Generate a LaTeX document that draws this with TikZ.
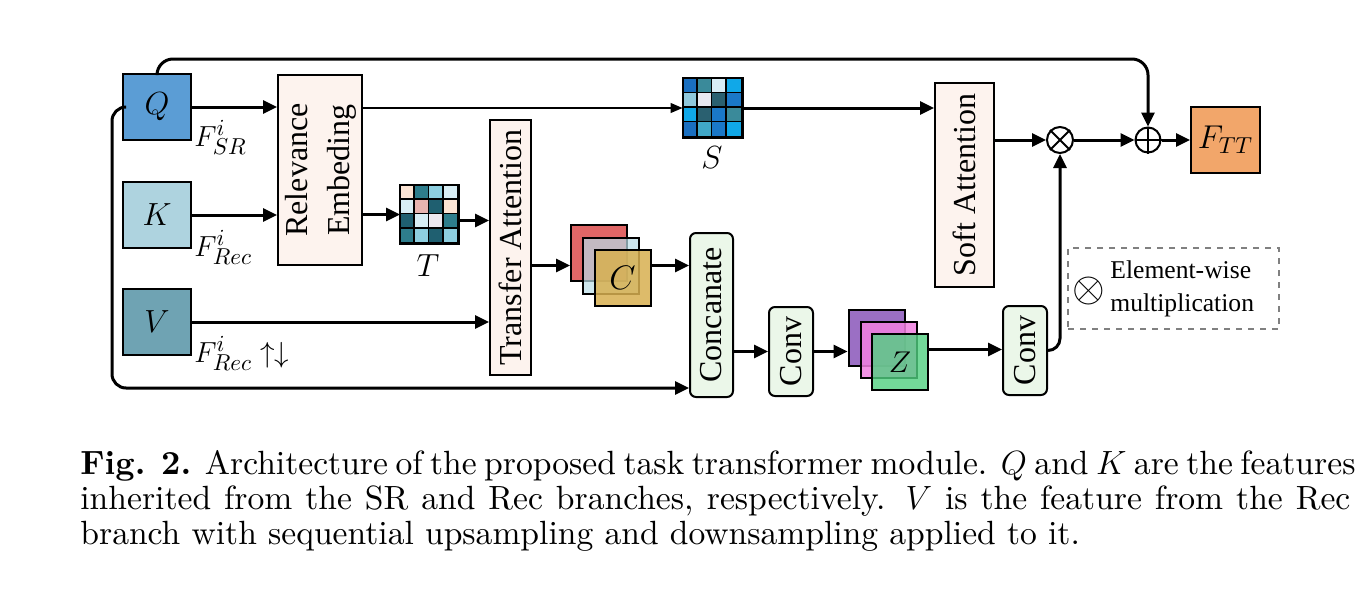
\RequirePackage{fix-cm}
\documentclass[tikz,border=0pt]{standalone}
\usepackage{fontspec}
\usepackage{graphicx}
\newfontfamily\boxfont{Liberation Serif}
\newfontfamily\capfont{lmroman10-regular.otf}[BoldFont=lmroman10-bold.otf]
\DeclareMathSizes{14.5}{14.5}{11.5}{8}
\usetikzlibrary{arrows.meta,calc}
\definecolor{qcol}{HTML}{5B9DD5}
\definecolor{kcol}{HTML}{AED3DF}
\definecolor{vcol}{HTML}{6FA3B3}
\definecolor{peach}{HTML}{FDF3EE}
\definecolor{mint}{HTML}{EBF7E9}
\definecolor{ftt}{HTML}{F2A66A}
\definecolor{tA}{HTML}{FCE4D4}
\definecolor{tB}{HTML}{2E7D8C}
\definecolor{tC}{HTML}{8ECFE0}
\definecolor{tD}{HTML}{D8EEF5}
\definecolor{tE}{HTML}{E8B4B0}
\definecolor{tF}{HTML}{1F5F70}
\definecolor{tG}{HTML}{ECE8F0}
\definecolor{sA}{HTML}{1A6FC0}
\definecolor{sB}{HTML}{3A8A9A}
\definecolor{sC}{HTML}{D8ECF5}
\definecolor{sD}{HTML}{10A8E8}
\definecolor{sE}{HTML}{90C8DC}
\definecolor{sF}{HTML}{E8E8F0}
\definecolor{sG}{HTML}{2A6070}
\definecolor{sH}{HTML}{1A78C8}
\definecolor{sI}{HTML}{40A8C8}
\definecolor{cred}{HTML}{E06666}
\definecolor{cblue}{HTML}{B8DDE8}
\definecolor{cgold}{HTML}{D8B050}
\definecolor{zpur}{HTML}{9B6FC4}
\definecolor{zpink}{HTML}{F080E0}
\definecolor{zgreen}{HTML}{50D080}
\tikzset{
  arr/.style={line width=1.5pt,-{Triangle[length=7pt,width=6.5pt]}},
  thinarr/.style={line width=0.6pt,-{Triangle[length=6pt,width=5pt]}},
  feat/.style={draw,line width=1pt,minimum width=34pt,minimum height=33pt,inner sep=0pt,font=\fontsize{16}{18}\selectfont},
  opbox/.style={draw,line width=1pt,fill=peach,inner sep=0pt,font=\boxfont\fontsize{16}{20}\selectfont},
  convbox/.style={draw,line width=1pt,fill=mint,rounded corners=3pt,inner sep=0pt,font=\boxfont\fontsize{16}{20}\selectfont},
  gridbox/.style={draw,line width=1pt,inner sep=0pt},
  gline/.style={line width=0.9pt},
  sq/.style={draw,line width=1pt,minimum size=28pt,inner sep=0pt},
  opc/.style={circle,draw,line width=1pt,minimum size=13pt,inner sep=0pt},
  flab/.style={inner sep=0pt,anchor=base west,font=\fontsize{14.5}{16}\selectfont},
  caplin/.style={inner sep=0pt,anchor=base west,font=\capfont\fontsize{16.8}{18}\selectfont}
}
\begin{document}
\begin{tikzpicture}[x=0.5pt,y=-0.5pt]
\useasboundingbox (0,0) rectangle (1372,600);
\fill[white] (0,0) rectangle (1372,600);
% feature boxes
\node[feat,fill=qcol] (Q) at (157,107) {$Q$};
\node[feat,fill=kcol] (K) at (157,215) {$K$};
\node[feat,fill=vcol] (V) at (157,322) {$V$};
\node[flab] (lq) at (194,146) {$F^i_{SR}$};
\node[flab] (lk) at (194,256) {$F^i_{Rec}$};
\node[flab] (lv) at (194,362) {$F^i_{Rec}\uparrow\downarrow$};
% operation boxes
\node[opbox,minimum width=40pt,minimum height=95pt] (rel) at (320,170)
  {\rotatebox{90}{\renewcommand\arraystretch{1.05}\begin{tabular}{@{}c@{}}Relevance\\Embeding\end{tabular}}};
\node[opbox,minimum width=20.5pt,minimum height=127.5pt] (ta) at (510.5,247.5) {\rotatebox{90}{Transfer Attention}};
\node[opbox,minimum width=29.5pt,minimum height=102pt] (soft) at (964.5,185) {\rotatebox{90}{Soft Attention}};
\node[convbox,minimum width=21.5pt,minimum height=82pt] (cat) at (711.5,315) {\rotatebox{90}{Concanate}};
\node[convbox,minimum width=22pt,minimum height=44.5pt] (conv1) at (791,351.5) {\rotatebox{90}{Conv}};
\node[convbox,minimum width=22pt,minimum height=44.5pt] (conv2) at (1025,350.5) {\rotatebox{90}{Conv}};
\node[feat,fill=ftt,minimum width=34.5pt,font=\fontsize{16.5}{18}\selectfont] (F) at (1225.5,140) {$F_{TT}$};
% T grid
\node[gridbox,minimum size=28.5pt] (T) at (429.5,214.5) {};
\foreach \c [count=\i from 0] in {tA,tB,tC,tD,tD,tE,tF,tA,tF,tD,tG,tB,tB,tC,tF,tC}{
  \pgfmathsetmacro\cx{mod(\i,4)}
  \pgfmathsetmacro\cy{int(\i/4)}
  \fill[\c] ($(T.north west)+(\cx*14.25,\cy*14.25)$) rectangle ++(14.25,14.25);
}
\foreach \k in {1,2,3}{
  \draw[gline] ($(T.north west)+(\k*14.25,0)$) -- ($(T.south west)+(\k*14.25,0)$);
  \draw[gline] ($(T.north west)+(0,\k*14.25)$) -- ($(T.north east)+(0,\k*14.25)$);
}
\draw[line width=1pt] (T.north west) rectangle (T.south east);
\node[inner sep=0pt,font=\fontsize{16}{18}\selectfont] (tl) at (428,266) {$T$};
% S grid
\node[gridbox,minimum size=29pt] (S) at (712.5,108) {};
\foreach \c [count=\i from 0] in {sA,sB,sC,sD,sE,sF,sG,sH,sD,sG,sH,sB,sA,sI,sH,sD}{
  \pgfmathsetmacro\cx{mod(\i,4)}
  \pgfmathsetmacro\cy{int(\i/4)}
  \fill[\c] ($(S.north west)+(\cx*14.5,\cy*14.5)$) rectangle ++(14.5,14.5);
}
\foreach \k in {1,2,3}{
  \draw[gline] ($(S.north west)+(\k*14.5,0)$) -- ($(S.south west)+(\k*14.5,0)$);
  \draw[gline] ($(S.north west)+(0,\k*14.5)$) -- ($(S.north east)+(0,\k*14.5)$);
}
\draw[line width=1pt] (S.north west) rectangle (S.south east);
\node[inner sep=0pt,font=\fontsize{16}{18}\selectfont] (sl) at (712,158) {$S$};
% C stack
\node[sq,fill=cred] (Cr) at (599,253) {};
\node[sq,fill=cblue,fill opacity=0.7] (Cb) at (610.5,265.5) {};
\node[sq,fill=cgold,fill opacity=0.85,text opacity=1,font=\fontsize{17}{18}\selectfont] (Cg) at (622.5,278) {$C$};
% Z stack
\node[sq,fill=zpur] (Zp) at (876.5,337.5) {};
\node[sq,fill=zpink,fill opacity=0.85] (Zk) at (888.5,349.5) {};
\node[sq,fill=zgreen,fill opacity=0.8,text opacity=1,font=\fontsize{15}{18}\selectfont] (Zg) at (900,362) {$Z$};
% operators
\node[opc] (ot) at (1060,140) {};
\draw[line width=1pt] (ot.north east) -- (ot.south west) (ot.north west) -- (ot.south east);
\node[opc,minimum size=12.5pt] (op) at (1148,140) {};
\draw[line width=1pt] (op.north) -- (op.south) (op.west) -- (op.east);
% legend
\node[draw=gray,dashed,line width=0.6pt,minimum width=105.5pt,minimum height=40.5pt] (leg) at (1173.5,288.5) {};
\node[inner sep=0pt,font=\fontsize{21}{22}\selectfont] (legs) at (1089,291) {$\otimes$};
\node[inner sep=0pt,anchor=west,align=left,font=\boxfont\fontsize{12.8}{16.5}\selectfont] (legt) at (1110,289) {Element-wise\\multiplication};
% connectors
\draw[arr] (Q.east) -- (Q.east -| rel.west);
\draw[arr] (K.east) -- (K.east -| rel.west);
\draw[arr] (V.east) -- (V.east -| ta.west);
\draw[arr] (T.west -| rel.east) -- (T.west);
\draw[arr] ([yshift=-3pt]T.east) -- ([yshift=-3pt]T.east -| ta.west);
\draw[thinarr] (S.west -| rel.east) -- (S.west);
\draw[arr] (S.east) -- (S.east -| soft.west);
\draw[arr] (Cb.west -| ta.east) -- (Cb.west -| Cr.west);
\draw[arr] (Cb.east -| Cg.east) -- (Cb.east -| cat.west);
\draw[arr] (conv1.west -| cat.east) -- (conv1.west);
\draw[arr] (conv1.east) -- (conv1.east -| Zp.west);
\draw[arr] (Zk.east -| Zg.east) -- (Zk.east -| conv2.west);
\draw[arr,rounded corners=6pt] (conv2.east) -| (ot.south);
\draw[arr] (ot.west -| soft.east) -- (ot.west);
\draw[arr] (ot.east) -- (op.west);
\draw[arr] (op.east) -- (F.west);
\coordinate (catin) at ($(cat.south west)+(0,-10)$);
\draw[arr,rounded corners=7pt] (Q.west) -- ++(-10,0) |- (catin);
\draw[arr,rounded corners=8pt] (Q.north) -- ++(0,-14) -| (op.north);
% caption
\node[caplin] (c1) at (80,474) {\makebox[635pt][s]{\textbf{Fig. 2.} Architecture of the proposed task transformer module. $Q$ and $K$ are the features}};
\node[caplin] (c2) at (80,509) {\makebox[635pt][s]{inherited from the SR and Rec branches, respectively. $V$ is the feature from the Rec}};
\node[caplin] (c3) at (80,544) {branch with sequential upsampling and downsampling applied to it.};
\end{tikzpicture}
\end{document}
